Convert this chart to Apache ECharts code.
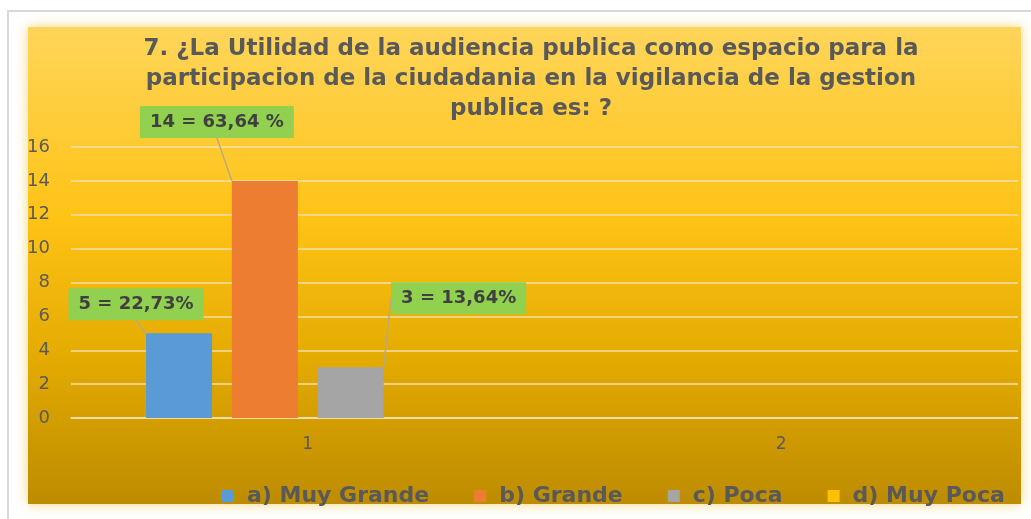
<!DOCTYPE html>
<html>
<head>
<meta charset="utf-8">
<script src="https://cdn.jsdelivr.net/npm/echarts@6/dist/echarts.min.js"></script>
<style>
  html, body { margin: 0; padding: 0; background: #fff; }
  #chart { width: 1031px; height: 519px; }
</style>
</head>
<body>
<div id="chart"></div>
<script>
// datos
var categories = ['1', '2'];
var seriesNames = ['a) Muy Grande', 'b) Grande', 'c) Poca', 'd) Muy Poca'];
var muyGrande = [5, null];
var grande = [14, null];
var poca = [3, null];
var muyPoca = [0, null];
var labelTexts = ['5 = 22,73%', '14 = 63,64 %', '3 = 13,64%', ''];
var yTicks = [0, 2, 4, 6, 8, 10, 12, 14, 16];

var colors = ['#5b9bd5', '#ed7d31', '#a5a5a5', '#ffc000'];
var values = [muyGrande, grande, poca, muyPoca];
// desplazamiento de cada etiqueta respecto a su posicion por defecto
var labelShift = [[-43, -8], [-48, -38], [108, -48], [0, 0]];
var guideLen = [0, 0, 13, 0];

var chart = echarts.init(document.getElementById('chart'));

var series = seriesNames.map(function (name, s) {
  return {
    name: name,
    type: 'bar',
    barWidth: 66,
    barGap: '30%',
    itemStyle: { color: colors[s] },
    label: {
      show: false,
      position: 'top',
      distance: 5,
      formatter: labelTexts[s],
      fontFamily: 'DejaVu Sans',
      fontWeight: 'bold',
      fontSize: 18,
      color: '#404040',
      backgroundColor: '#92d050',
      padding: [7, 10, 7, 10]
    },
    labelLine: {
      show: true,
      length: guideLen[s],
      lineStyle: { color: '#b8aa80', width: 1.5 }
    },
    labelLayout: function () {
      return { dx: labelShift[s][0], dy: labelShift[s][1] };
    },
    data: values[s].map(function (v, i) {
      return {
        value: v,
        label: { show: i === 0 && labelTexts[s] !== '' }
      };
    })
  };
});

var option = {
  animation: false,
  graphic: [
    {
      type: 'rect',
      z: -10,
      silent: true,
      shape: { x: 8, y: 11, width: 1100, height: 600 },
      style: { fill: '#fff', stroke: '#d9d9d9', lineWidth: 2 }
    },
    {
      type: 'rect',
      z: -9,
      silent: true,
      shape: { x: 28, y: 27, width: 993, height: 477 },
      style: {
        fill: new echarts.graphic.LinearGradient(0, 0, 0, 1, [
          { offset: 0, color: '#ffd55a' },
          { offset: 0.4, color: '#ffc316' },
          { offset: 0.7, color: '#e3aa00' },
          { offset: 1, color: '#bd8c00' }
        ]),
        shadowBlur: 12,
        shadowColor: 'rgba(235,185,40,0.6)'
      }
    }
  ],
  title: {
    text: '7. ¿La Utilidad de la audiencia publica como espacio para la\nparticipacion de la ciudadania en la vigilancia de la gestion\npublica es: ?',
    left: 526,
    top: 29,
    textAlign: 'center',
    textStyle: {
      fontFamily: 'DejaVu Sans',
      fontWeight: 'bold',
      fontSize: 23,
      lineHeight: 30,
      color: '#595959'
    }
  },
  legend: {
    data: seriesNames,
    left: 217,
    top: 480,
    icon: 'rect',
    itemWidth: 12,
    itemHeight: 12,
    itemGap: 45,
    textStyle: {
      fontFamily: 'DejaVu Sans',
      fontWeight: 'bold',
      fontSize: 22,
      color: '#595959',
      padding: [0, 0, 0, 8]
    }
  },
  grid: { left: 71, right: 13, top: 147, bottom: 101 },
  xAxis: {
    type: 'category',
    data: categories,
    axisTick: { show: false },
    axisLine: { show: true, lineStyle: { color: 'rgba(240,228,190,0.9)', width: 1.5 } },
    axisLabel: { fontFamily: 'DejaVu Sans', fontSize: 17, color: '#5a5a5a', margin: 18 }
  },
  yAxis: {
    type: 'value',
    min: yTicks[0],
    max: yTicks[yTicks.length - 1],
    interval: yTicks[1] - yTicks[0],
    axisLine: { show: false },
    axisTick: { show: false },
    axisLabel: { fontFamily: 'DejaVu Sans', fontSize: 18, color: '#5a5a5a', margin: 21 },
    splitLine: { lineStyle: { color: 'rgba(240,228,190,0.9)', width: 1.5 } }
  },
  series: series
};

chart.setOption(option);
</script>
</body>
</html>
